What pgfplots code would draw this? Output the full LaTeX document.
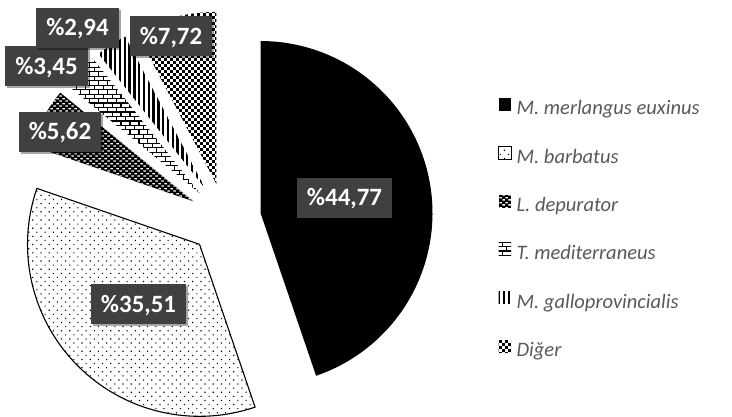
\documentclass[border=0pt]{standalone}
\usepackage{pgfplots}
\pgfplotsset{compat=1.18}
\usepackage{pgfplotstable}
\usepackage{fontspec}
\setmainfont{Carlito}
\usetikzlibrary{patterns,patterns.meta,shadows}

\definecolor{boxgray}{HTML}{404040}
\definecolor{leggray}{HTML}{595959}

\pgfdeclarepatternformonly{sqconfetti}{\pgfqpoint{0pt}{0pt}}{\pgfqpoint{6pt}{6pt}}{\pgfqpoint{6pt}{6pt}}{%
  \pgfpathrectangle{\pgfqpoint{0.2pt}{0.2pt}}{\pgfqpoint{2.6pt}{2.6pt}}%
  \pgfpathrectangle{\pgfqpoint{3.2pt}{3.2pt}}{\pgfqpoint{2.6pt}{2.6pt}}%
  \pgfusepath{fill}}
\pgfdeclarepatternformonly{holes}{\pgfqpoint{0pt}{0pt}}{\pgfqpoint{6pt}{4.6pt}}{\pgfqpoint{6pt}{4.6pt}}{%
  \pgfpathrectangle{\pgfqpoint{0.4pt}{0.5pt}}{\pgfqpoint{2.6pt}{1.4pt}}%
  \pgfpathrectangle{\pgfqpoint{3.4pt}{2.8pt}}{\pgfqpoint{2.6pt}{1.4pt}}%
  \pgfusepath{fill}}
\pgfdeclarepatternformonly{mybricks}{\pgfqpoint{-0.5pt}{-0.5pt}}{\pgfqpoint{9.5pt}{9.5pt}}{\pgfqpoint{9pt}{9pt}}{%
  \pgfsetlinewidth{1.1pt}%
  \pgfpathmoveto{\pgfqpoint{0pt}{0pt}}\pgfpathlineto{\pgfqpoint{9pt}{0pt}}%
  \pgfpathmoveto{\pgfqpoint{0pt}{4.5pt}}\pgfpathlineto{\pgfqpoint{9pt}{4.5pt}}%
  \pgfpathmoveto{\pgfqpoint{0pt}{0pt}}\pgfpathlineto{\pgfqpoint{0pt}{4.5pt}}%
  \pgfpathmoveto{\pgfqpoint{4.5pt}{4.5pt}}\pgfpathlineto{\pgfqpoint{4.5pt}{9pt}}%
  \pgfusepath{stroke}}

\pgfplotstableread{
pct
44.77
35.51
5.62
3.45
2.94
7.72
}\piedata

\pgfplotstablegetelem{0}{pct}\of\piedata\edef\pA{\pgfplotsretval}
\pgfplotstablegetelem{1}{pct}\of\piedata\edef\pB{\pgfplotsretval}
\pgfplotstablegetelem{2}{pct}\of\piedata\edef\pC{\pgfplotsretval}
\pgfplotstablegetelem{3}{pct}\of\piedata\edef\pD{\pgfplotsretval}
\pgfplotstablegetelem{4}{pct}\of\piedata\edef\pE{\pgfplotsretval}
\pgfplotstablegetelem{5}{pct}\of\piedata\edef\pF{\pgfplotsretval}
\pgfmathsetmacro\tot{\pA+\pB+\pC+\pD+\pE+\pF}
\pgfmathsetmacro\aA{0}
\pgfmathsetmacro\aB{\aA+360*\pA/\tot}
\pgfmathsetmacro\aC{\aB+360*\pB/\tot}
\pgfmathsetmacro\aD{\aC+360*\pC/\tot}
\pgfmathsetmacro\aE{\aD+360*\pD/\tot}
\pgfmathsetmacro\aF{\aE+360*\pE/\tot}
\pgfmathsetmacro\aG{360}

\def\cx{225.0}
\def\cy{195.1}
\def\R{172}
\def\ex{36}

\newcommand\pieslice[4]{%
  \pgfmathsetmacro\wmid{(#1+#2)/2}%
  \pgfmathsetmacro\ax{\cx+\ex*sin(\wmid)}%
  \pgfmathsetmacro\ay{\cy+\ex*cos(\wmid)}%
  \edef\doit{\noexpand\addplot[\unexpanded{#3}, domain=#1:#2, samples=90] ({\ax+\R*sin(x)},{\ay+\R*cos(x)}) -- (axis cs:\ax,\ay) -- cycle;}%
  \doit
  \addlegendentry{#4}%
}

\tikzset{lab/.style={fill=boxgray, text=white, font=\fontsize{25}{30}\selectfont\bfseries,
  minimum height=40bp, inner xsep=10bp, inner ysep=0pt, text height=16bp, text depth=0bp,
  drop shadow={shadow xshift=2bp, shadow yshift=-2bp, opacity=0.35, fill=black}}}

\begin{document}
\begin{tikzpicture}
\begin{axis}[
  width=732bp, height=414bp, scale only axis,
  xmin=0, xmax=732, ymin=0, ymax=414,
  axis lines=none, clip=false,
  legend image code/.code={\path[#1] (0bp,-0.5bp) rectangle (12.5bp,12.5bp);},
  legend style={at={(axis cs:498,316.3)}, anchor=north west, draw=none, fill=none,
    inner sep=0pt, outer sep=0pt, row sep=26.2bp, column sep=5bp,
    font=\fontsize{20.6}{24}\selectfont\itshape, text=leggray,
    nodes={inner sep=0pt, text height=14bp, text depth=5bp}},
  legend cell align=left,
]
\path (axis cs:0,0) rectangle (axis cs:732,414);
\pieslice{\aA}{\aB}{draw=none, fill=black}{M. merlangus euxinus}
\pieslice{\aB}{\aC}{draw=black, line width=1.1bp, pattern={Dots[angle=45, distance=5.8bp, radius=0.8bp]}, pattern color=black}{M. barbatus}
\pieslice{\aC}{\aD}{draw=none, preaction={fill=black}, pattern=holes, pattern color=white}{L. depurator}
\pieslice{\aD}{\aE}{draw=none, pattern=mybricks, pattern color=black}{T. mediterraneus}
\pieslice{\aE}{\aF}{draw=none, pattern={Lines[angle=90, distance=4.8bp, line width=2.3bp]}, pattern color=black}{M. galloprovincialis}
\pieslice{\aF}{\aG}{draw=none, pattern=sqconfetti, pattern color=black}{Diğer}

\node[lab] at (axis cs:344.5,216) {\%44,77};
\node[lab] at (axis cs:138.5,109.5) {\%35,51};
\node[lab] at (axis cs:60,282) {\%5,62};
\node[lab] at (axis cs:46.5,347.5) {\%3,45};
\node[lab] at (axis cs:77.5,386) {\%2,94};
\node[lab] at (axis cs:171,377.5) {\%7,72};
\end{axis}
\end{tikzpicture}
\end{document}
